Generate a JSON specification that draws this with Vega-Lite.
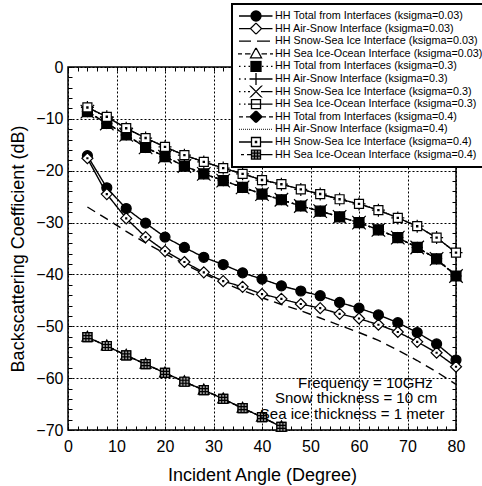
{
"$schema":"https://vega.github.io/schema/vega-lite/v6.json",
"width":388,"height":363,
"autosize":"none",
"padding":{"left":68,"top":67,"right":26,"bottom":56},
"params":[
{"name":"legShapes","value":{
"HH Total from Interfaces (ksigma=0.03)":"M-3.4,0H-1M1,0H3.3M-1,0A1,1,0,1,0,1,0A1,1,0,1,0,-1,0Z",
"HH Air-Snow Interface (ksigma=0.03)":"M-3.4,0H-1.1M1.1,0H3.3M0,-1.1L1.1,0L0,1.1L-1.1,0Z",
"HH Snow-Sea Ice Interface (ksigma=0.03)":"M-3.4,0H-1M0.2,0H2.8",
"HH Sea Ice-Ocean Interface (ksigma=0.03)":"M-3.6,0H-2.8M-2.2,0H-1.1M1.1,0H2.2M2.8,0H3.4M0,-1.2L1.1,0.8H-1.1Z",
"HH Total from Interfaces (ksigma=0.3)":"M-3.4,0H-3.1M-2.4,0H-2.1M-1.5,0H-1.2M1.2,0H1.5M2.1,0H2.4M3,0H3.3M-1,-1H1V1H-1Z",
"HH Air-Snow Interface (ksigma=0.3)":"M-3.4,0H-3.1M-2.3,0H-2M-1.3,0H3.3M0,-1.3V1.3",
"HH Snow-Sea Ice Interface (ksigma=0.3)":"M-3.4,0H-3.1M-2.4,0H-2.1M-1.3,-1.3L1.3,1.3M-1.3,1.3L1.3,-1.3M-1.6,0H-1.2M1,0H3.3",
"HH Sea Ice-Ocean Interface (ksigma=0.3)":"M-3.4,0H-3.1M-2.4,0H-2.1M-1.6,0H-0.9M0.9,0H3.3M-0.9,-0.9H0.9V0.9H-0.9ZM-0.9,0H0.9",
"HH Total from Interfaces (ksigma=0.4)":"M-3.4,0H-2.6M-2,0H-1.2M1.2,0H2M2.6,0H3.4M0,-1.2L1.2,0L0,1.2L-1.2,0Z",
"HH Air-Snow Interface (ksigma=0.4)":"M-3.4,0H-3.25M-3,0H-2.85M-2.6,0H-2.45M-2.2,0H-2.05M-1.8,0H-1.65M-1.4,0H-1.25M-1,0H-0.85M-0.6,0H-0.45M-0.2,0H-0.05M0.2,0H0.35M0.6,0H0.75M1,0H1.15M1.4,0H1.55M1.8,0H1.95M2.2,0H2.35M2.6,0H2.75M3,0H3.15",
"HH Snow-Sea Ice Interface (ksigma=0.4)":"M-3.4,0H-0.9M0.9,0H3.3M-0.9,-0.9H0.9V0.9H-0.9ZM-0.12,-0.12H0.12V0.12H-0.12Z",
"HH Sea Ice-Ocean Interface (ksigma=0.4)":"M-3,0H-2.4M-1.8,0H-0.9M0.9,0H3.3M-0.9,-0.9H0.9V0.9H-0.9ZM-0.9,-0.3H0.9M-0.9,0.3H0.9M-0.3,-0.9V0.9M0.3,-0.9V0.9"
}},
{"name":"legFill","value":{
"HH Total from Interfaces (ksigma=0.03)":"black",
"HH Air-Snow Interface (ksigma=0.03)":"white",
"HH Snow-Sea Ice Interface (ksigma=0.03)":"white",
"HH Sea Ice-Ocean Interface (ksigma=0.03)":"white",
"HH Total from Interfaces (ksigma=0.3)":"black",
"HH Air-Snow Interface (ksigma=0.3)":"white",
"HH Snow-Sea Ice Interface (ksigma=0.3)":"white",
"HH Sea Ice-Ocean Interface (ksigma=0.3)":"white",
"HH Total from Interfaces (ksigma=0.4)":"black",
"HH Air-Snow Interface (ksigma=0.4)":"white",
"HH Snow-Sea Ice Interface (ksigma=0.4)":"white",
"HH Sea Ice-Ocean Interface (ksigma=0.4)":"#9a9a9a"
}}
],
"datasets":{
"names":[
{"k":1,"s":"HH Total from Interfaces (ksigma=0.03)"},
{"k":2,"s":"HH Air-Snow Interface (ksigma=0.03)"},
{"k":3,"s":"HH Snow-Sea Ice Interface (ksigma=0.03)"},
{"k":4,"s":"HH Sea Ice-Ocean Interface (ksigma=0.03)"},
{"k":5,"s":"HH Total from Interfaces (ksigma=0.3)"},
{"k":6,"s":"HH Air-Snow Interface (ksigma=0.3)"},
{"k":7,"s":"HH Snow-Sea Ice Interface (ksigma=0.3)"},
{"k":8,"s":"HH Sea Ice-Ocean Interface (ksigma=0.3)"},
{"k":9,"s":"HH Total from Interfaces (ksigma=0.4)"},
{"k":10,"s":"HH Air-Snow Interface (ksigma=0.4)"},
{"k":11,"s":"HH Snow-Sea Ice Interface (ksigma=0.4)"},
{"k":12,"s":"HH Sea Ice-Ocean Interface (ksigma=0.4)"}
],
"curves":[
{"k":1,"x":4,"y":-17.1},{"k":1,"x":8,"y":-23.3},{"k":1,"x":12,"y":-27.3},{"k":1,"x":16,"y":-30.1},{"k":1,"x":20,"y":-32.8},{"k":1,"x":24,"y":-34.8},{"k":1,"x":28,"y":-36.7},{"k":1,"x":32,"y":-38.1},{"k":1,"x":36,"y":-39.7},{"k":1,"x":40,"y":-40.9},{"k":1,"x":44,"y":-42.2},{"k":1,"x":48,"y":-43.2},{"k":1,"x":52,"y":-44.1},{"k":1,"x":56,"y":-45.4},{"k":1,"x":60,"y":-46.5},{"k":1,"x":64,"y":-47.8},{"k":1,"x":68,"y":-49.3},{"k":1,"x":72,"y":-51.2},{"k":1,"x":76,"y":-53.4},{"k":1,"x":80,"y":-56.5},
{"k":2,"x":4,"y":-17.6},{"k":2,"x":8,"y":-24.5},{"k":2,"x":12,"y":-29.2},{"k":2,"x":16,"y":-32.8},{"k":2,"x":20,"y":-35.5},{"k":2,"x":24,"y":-37.6},{"k":2,"x":28,"y":-39.6},{"k":2,"x":32,"y":-41.3},{"k":2,"x":36,"y":-42.4},{"k":2,"x":40,"y":-43.8},{"k":2,"x":44,"y":-44.7},{"k":2,"x":48,"y":-45.7},{"k":2,"x":52,"y":-46.5},{"k":2,"x":56,"y":-47.6},{"k":2,"x":60,"y":-48.5},{"k":2,"x":64,"y":-49.7},{"k":2,"x":68,"y":-51.1},{"k":2,"x":72,"y":-53.0},{"k":2,"x":76,"y":-55.1},{"k":2,"x":80,"y":-57.8},
{"k":3,"x":4,"y":-27.0},{"k":3,"x":8,"y":-29.3},{"k":3,"x":12,"y":-31.7},{"k":3,"x":16,"y":-33.9},{"k":3,"x":20,"y":-36.0},{"k":3,"x":24,"y":-38.0},{"k":3,"x":28,"y":-39.9},{"k":3,"x":32,"y":-41.6},{"k":3,"x":36,"y":-43.1},{"k":3,"x":40,"y":-44.5},{"k":3,"x":44,"y":-45.8},{"k":3,"x":48,"y":-47.0},{"k":3,"x":52,"y":-48.4},{"k":3,"x":56,"y":-49.8},{"k":3,"x":60,"y":-51.2},{"k":3,"x":64,"y":-52.7},{"k":3,"x":68,"y":-54.6},{"k":3,"x":72,"y":-56.6},{"k":3,"x":76,"y":-58.8},{"k":3,"x":80,"y":-61.2},
{"k":4,"x":4,"y":-52.1},{"k":4,"x":8,"y":-53.8},{"k":4,"x":12,"y":-55.6},{"k":4,"x":16,"y":-57.3},{"k":4,"x":20,"y":-59.0},{"k":4,"x":24,"y":-60.7},{"k":4,"x":28,"y":-62.3},{"k":4,"x":32,"y":-64.0},{"k":4,"x":36,"y":-65.8},{"k":4,"x":40,"y":-67.5},{"k":4,"x":44,"y":-69.4},
{"k":5,"x":4,"y":-8.6},{"k":5,"x":8,"y":-10.9},{"k":5,"x":12,"y":-13.1},{"k":5,"x":16,"y":-15.5},{"k":5,"x":20,"y":-17.3},{"k":5,"x":24,"y":-19.1},{"k":5,"x":28,"y":-20.6},{"k":5,"x":32,"y":-21.9},{"k":5,"x":36,"y":-23.2},{"k":5,"x":40,"y":-24.5},{"k":5,"x":44,"y":-25.6},{"k":5,"x":48,"y":-26.8},{"k":5,"x":52,"y":-27.8},{"k":5,"x":56,"y":-28.9},{"k":5,"x":60,"y":-30.0},{"k":5,"x":64,"y":-31.4},{"k":5,"x":68,"y":-32.9},{"k":5,"x":72,"y":-34.8},{"k":5,"x":76,"y":-37.0},{"k":5,"x":80,"y":-40.3},
{"k":6,"x":4,"y":-7.8},{"k":6,"x":8,"y":-9.6},{"k":6,"x":12,"y":-11.8},{"k":6,"x":16,"y":-13.7},{"k":6,"x":20,"y":-15.4},{"k":6,"x":24,"y":-17.0},{"k":6,"x":28,"y":-18.3},{"k":6,"x":32,"y":-19.5},{"k":6,"x":36,"y":-20.6},{"k":6,"x":40,"y":-21.8},{"k":6,"x":44,"y":-22.6},{"k":6,"x":48,"y":-23.6},{"k":6,"x":52,"y":-24.5},{"k":6,"x":56,"y":-25.5},{"k":6,"x":60,"y":-26.4},{"k":6,"x":64,"y":-27.6},{"k":6,"x":68,"y":-29.1},{"k":6,"x":72,"y":-30.7},{"k":6,"x":76,"y":-32.9},{"k":6,"x":80,"y":-35.8},
{"k":7,"x":4,"y":-8.6},{"k":7,"x":8,"y":-10.9},{"k":7,"x":12,"y":-13.1},{"k":7,"x":16,"y":-15.5},{"k":7,"x":20,"y":-17.3},{"k":7,"x":24,"y":-19.1},{"k":7,"x":28,"y":-20.6},{"k":7,"x":32,"y":-21.9},{"k":7,"x":36,"y":-23.2},{"k":7,"x":40,"y":-24.5},{"k":7,"x":44,"y":-25.6},{"k":7,"x":48,"y":-26.8},{"k":7,"x":52,"y":-27.8},{"k":7,"x":56,"y":-28.9},{"k":7,"x":60,"y":-30.0},{"k":7,"x":64,"y":-31.4},{"k":7,"x":68,"y":-32.9},{"k":7,"x":72,"y":-34.8},{"k":7,"x":76,"y":-37.0},{"k":7,"x":80,"y":-40.3},
{"k":8,"x":4,"y":-52.1},{"k":8,"x":8,"y":-53.8},{"k":8,"x":12,"y":-55.6},{"k":8,"x":16,"y":-57.3},{"k":8,"x":20,"y":-59.0},{"k":8,"x":24,"y":-60.7},{"k":8,"x":28,"y":-62.3},{"k":8,"x":32,"y":-64.0},{"k":8,"x":36,"y":-65.8},{"k":8,"x":40,"y":-67.5},{"k":8,"x":44,"y":-69.4},
{"k":9,"x":4,"y":-8.6},{"k":9,"x":8,"y":-10.9},{"k":9,"x":12,"y":-13.1},{"k":9,"x":16,"y":-15.5},{"k":9,"x":20,"y":-17.3},{"k":9,"x":24,"y":-19.1},{"k":9,"x":28,"y":-20.6},{"k":9,"x":32,"y":-21.9},{"k":9,"x":36,"y":-23.2},{"k":9,"x":40,"y":-24.5},{"k":9,"x":44,"y":-25.6},{"k":9,"x":48,"y":-26.8},{"k":9,"x":52,"y":-27.8},{"k":9,"x":56,"y":-28.9},{"k":9,"x":60,"y":-30.0},{"k":9,"x":64,"y":-31.4},{"k":9,"x":68,"y":-32.9},{"k":9,"x":72,"y":-34.8},{"k":9,"x":76,"y":-37.0},{"k":9,"x":80,"y":-40.3},
{"k":10,"x":4,"y":-7.8},{"k":10,"x":8,"y":-9.6},{"k":10,"x":12,"y":-11.8},{"k":10,"x":16,"y":-13.7},{"k":10,"x":20,"y":-15.4},{"k":10,"x":24,"y":-17.0},{"k":10,"x":28,"y":-18.3},{"k":10,"x":32,"y":-19.5},{"k":10,"x":36,"y":-20.6},{"k":10,"x":40,"y":-21.8},{"k":10,"x":44,"y":-22.6},{"k":10,"x":48,"y":-23.6},{"k":10,"x":52,"y":-24.5},{"k":10,"x":56,"y":-25.5},{"k":10,"x":60,"y":-26.4},{"k":10,"x":64,"y":-27.6},{"k":10,"x":68,"y":-29.1},{"k":10,"x":72,"y":-30.7},{"k":10,"x":76,"y":-32.9},{"k":10,"x":80,"y":-35.8},
{"k":11,"x":4,"y":-7.8},{"k":11,"x":8,"y":-9.6},{"k":11,"x":12,"y":-11.8},{"k":11,"x":16,"y":-13.7},{"k":11,"x":20,"y":-15.4},{"k":11,"x":24,"y":-17.0},{"k":11,"x":28,"y":-18.3},{"k":11,"x":32,"y":-19.5},{"k":11,"x":36,"y":-20.6},{"k":11,"x":40,"y":-21.8},{"k":11,"x":44,"y":-22.6},{"k":11,"x":48,"y":-23.6},{"k":11,"x":52,"y":-24.5},{"k":11,"x":56,"y":-25.5},{"k":11,"x":60,"y":-26.4},{"k":11,"x":64,"y":-27.6},{"k":11,"x":68,"y":-29.1},{"k":11,"x":72,"y":-30.7},{"k":11,"x":76,"y":-32.9},{"k":11,"x":80,"y":-35.8},
{"k":12,"x":4,"y":-52.1},{"k":12,"x":8,"y":-53.8},{"k":12,"x":12,"y":-55.6},{"k":12,"x":16,"y":-57.3},{"k":12,"x":20,"y":-59.0},{"k":12,"x":24,"y":-60.7},{"k":12,"x":28,"y":-62.3},{"k":12,"x":32,"y":-64.0},{"k":12,"x":36,"y":-65.8},{"k":12,"x":40,"y":-67.5},{"k":12,"x":44,"y":-69.4}
],
"notes":[
{"tx":61.3,"ty":-60.9,"t":"Frequency = 10GHz"},
{"tx":59.4,"ty":-63.9,"t":"Snow thickness = 10 cm"},
{"tx":58.6,"ty":-66.9,"t":"Sea ice thickness = 1 meter"}
]
},
"layer":[
{
"data":{"name":"curves"},
"mark":{"type":"line","color":"black"},
"encoding":{
"x":{"field":"x","type":"quantitative","scale":{"domain":[0,80],"nice":false,"zero":false},
 "axis":{"orient":"bottom","values":[0,10,20,30,40,50,60,70,80],"ticks":false,"domain":false,"grid":true,"gridColor":"black","gridDash":[2,2],"gridWidth":1,"gridOpacity":1,"labelFont":"Liberation Sans","labelFontSize":16,"labelColor":"black","labelPadding":8,"labelFlush":false,"labelOverlap":false,"title":"Incident Angle (Degree)","titleFont":"Liberation Sans","titleFontSize":18,"titleFontWeight":"normal","titleColor":"black","titleX":194,"titleY":50,"titleBaseline":"alphabetic","titleAlign":"center","titleAnchor":"middle"}},
"y":{"field":"y","type":"quantitative","scale":{"domain":[-70,0],"nice":false,"zero":false},
 "axis":{"orient":"left","values":[-70,-60,-50,-40,-30,-20,-10,0],"ticks":false,"domain":false,"grid":true,"gridColor":"black","gridDash":[2,2],"gridWidth":1,"gridOpacity":1,"labelFont":"Liberation Sans","labelFontSize":16,"labelColor":"black","labelPadding":5,"labelFlush":false,"labelOverlap":false,"title":"Backscattering Coefficient (dB)","titleFont":"Liberation Sans","titleFontSize":18,"titleFontWeight":"normal","titleColor":"black","titleX":-45,"titleY":181.5,"titleAngle":-90,"titleBaseline":"alphabetic","titleAlign":"center","titleAnchor":"middle"}},
"strokeDash":{"field":"k","type":"nominal","legend":null,
 "scale":{"domain":[1,2,3,4,5,6,7,8,9,10,11,12],
 "range":[[1,0],[1,0],[9,6],[5,3],[2,3],[1,3],[2,3],[1,3],[6,3],[1,2],[1,0],[1,0]]}},
"strokeWidth":{"field":"k","type":"ordinal","legend":null,
 "scale":{"domain":[1,2,3,4,5,6,7,8,9,10,11,12],
 "range":[1.4,1.4,1.9,1.2,1.2,1.2,1.2,1.2,1.2,1.2,1.3,1.3]}},
"detail":{"field":"k","type":"nominal"}
}
},
{
"data":{"name":"curves"},
"transform":[{"lookup":"k","from":{"data":{"name":"names"},"key":"k","fields":["s"]}}],
"mark":{"type":"point","strokeWidth":1.2,"opacity":1,"size":100},
"encoding":{
"x":{"field":"x","type":"quantitative","axis":{"orient":"bottom","values":[0,2,4,6,8,10,12,14,16,18,20,22,24,26,28,30,32,34,36,38,40,42,44,46,48,50,52,54,56,58,60,62,64,66,68,70,72,74,76,78,80],"labels":false,"grid":false,"domain":false,"ticks":true,"tickSize":4,"tickColor":"black","tickWidth":1,"offset":-4,"title":null}},
"y":{"field":"y","type":"quantitative","axis":{"orient":"left","values":[-70,-68,-66,-64,-62,-60,-58,-56,-54,-52,-50,-48,-46,-44,-42,-40,-38,-36,-34,-32,-30,-28,-26,-24,-22,-20,-18,-16,-14,-12,-10,-8,-6,-4,-2,0],"labels":false,"grid":false,"domain":false,"ticks":true,"tickSize":4,"tickColor":"black","tickWidth":1,"offset":-4,"title":null}},
"color":{"field":"s","type":"nominal",
 "scale":{"domain":["HH Total from Interfaces (ksigma=0.03)","HH Air-Snow Interface (ksigma=0.03)","HH Snow-Sea Ice Interface (ksigma=0.03)","HH Sea Ice-Ocean Interface (ksigma=0.03)","HH Total from Interfaces (ksigma=0.3)","HH Air-Snow Interface (ksigma=0.3)","HH Snow-Sea Ice Interface (ksigma=0.3)","HH Sea Ice-Ocean Interface (ksigma=0.3)","HH Total from Interfaces (ksigma=0.4)","HH Air-Snow Interface (ksigma=0.4)","HH Snow-Sea Ice Interface (ksigma=0.4)","HH Sea Ice-Ocean Interface (ksigma=0.4)"],
 "range":["black","black","black","black","black","black","black","black","black","black","black","black"]},
 "legend":{"orient":"none","legendX":164,"legendY":-63,"title":null,"padding":6,"strokeColor":"black","fillColor":"white","zindex":2,"labelFont":"Liberation Sans","labelFontSize":10.8,"labelColor":"black","labelLimit":400,"labelOffset":13,"symbolOffset":12,"symbolSize":100,"symbolStrokeColor":"black","symbolStrokeWidth":1.3,"rowPadding":0.6,"clipHeight":12,
  "encoding":{"symbols":{"shape":{"value":{"expr":"legShapes[datum.value]"}},"fill":{"value":{"expr":"legFill[datum.value]"}},"stroke":{"value":"black"}},"legend":{"strokeWidth":{"value":2}}}}},
"shape":{"field":"k","type":"nominal","legend":null,
 "scale":{"domain":[1,2,3,4,5,6,7,8,9,10,11,12],
 "range":["circle","M0,-1.1L1.1,0L0,1.1L-1.1,0ZM-0.1,-0.1H0.1V0.1H-0.1Z","M0,0","M0,-1.2L1.1,0.8H-1.1Z","M-1,-1H1V1H-1Z","M-1.3,0H1.3M0,-1.3V1.3","M-1.35,-1.35L1.35,1.35M-1.35,1.35L1.35,-1.35","M-0.9,-0.9H0.9V0.9H-0.9ZM-0.9,0H0.9","M0,-1L1,0L0,1L-1,0Z","M0,0","M-0.9,-0.9H0.9V0.9H-0.9ZM-0.12,-0.12H0.12V0.12H-0.12Z","M-0.9,-0.9H0.9V0.9H-0.9ZM-0.9,-0.3H0.9M-0.9,0.3H0.9M-0.3,-0.9V0.9M0.3,-0.9V0.9"]}},
"fill":{"field":"k","type":"nominal","legend":null,
 "scale":{"domain":[1,2,3,4,5,6,7,8,9,10,11,12],
 "range":["black","white","white","white","black","white","white","white","black","white","white","#9a9a9a"]}}
}
},
{
"data":{"name":"notes"},
"mark":{"type":"text","font":"Liberation Sans","fontSize":15,"color":"black","align":"center","baseline":"middle"},
"encoding":{
"x":{"field":"tx","type":"quantitative","axis":{"orient":"top","values":[0,2,4,6,8,10,12,14,16,18,20,22,24,26,28,30,32,34,36,38,40,42,44,46,48,50,52,54,56,58,60,62,64,66,68,70,72,74,76,78,80],"labels":false,"grid":false,"domain":false,"ticks":true,"tickSize":4,"tickColor":"black","tickWidth":1,"offset":-4,"title":null}},
"y":{"field":"ty","type":"quantitative","axis":{"orient":"right","values":[-70,-68,-66,-64,-62,-60,-58,-56,-54,-52,-50,-48,-46,-44,-42,-40,-38,-36,-34,-32,-30,-28,-26,-24,-22,-20,-18,-16,-14,-12,-10,-8,-6,-4,-2,0],"labels":false,"grid":false,"domain":false,"ticks":true,"tickSize":4,"tickColor":"black","tickWidth":1,"offset":-4,"title":null}},
"text":{"field":"t","type":"nominal"}
}
}
],
"resolve":{"axis":{"x":"independent","y":"independent"}},
"config":{"view":{"stroke":"black","strokeWidth":1.5},"background":"white"}
}
